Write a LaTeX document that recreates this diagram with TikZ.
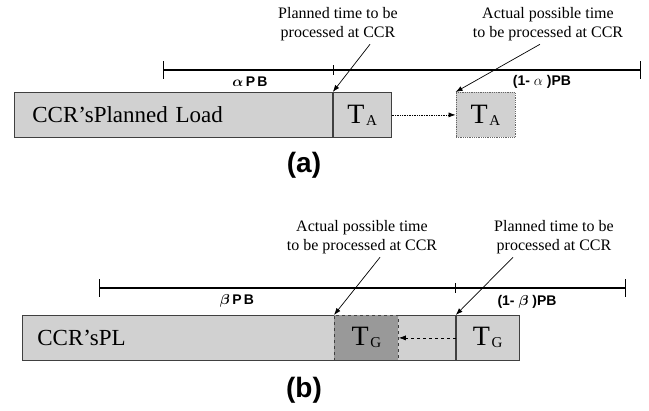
\documentclass[tikz,border=0pt]{standalone}
\usepackage{fontspec}
\usepackage{amsmath}
\usepackage{bm}
\setmainfont{Liberation Serif}
\setsansfont{Liberation Sans}
\usetikzlibrary{arrows.meta,positioning}

\definecolor{loadgray}{gray}{0.82}
\definecolor{shadegray}{gray}{0.6}
\newcommand{\tsub}[1]{{\fontsize{28}{28}\selectfont T}\,\raisebox{-2pt}{\fontsize{15}{15}\selectfont #1}}

\begin{document}
\begin{tikzpicture}[x=1pt,y=-1pt,>={Latex[length=7pt,width=5pt]},
    box/.style={draw=black!75,fill=loadgray,line width=0.8pt,inner sep=0pt,minimum height=45pt},
    loadtext/.style={anchor=north west,align=left,font=\fontsize{23}{23}\selectfont},
    note/.style={align=center,font=\fontsize{16}{19}\selectfont},
    span/.style={font=\sffamily\bfseries\fontsize{14}{14}\selectfont},
    caption/.style={font=\sffamily\bfseries\fontsize{28}{28}\selectfont},
    scaleline/.style={line width=1.6pt},
    tickline/.style={line width=1pt},
    pointer/.style={->,line width=0.7pt}]
    \useasboundingbox (0,0) rectangle (649,411);

    % (a) alpha part of the buffer
    \coordinate (a0) at (163,70);
    \coordinate (a1) at (333,70);
    \coordinate (a2) at (640,70);
    \draw[scaleline] (a0) -- (a2);
    \foreach \p/\h in {a0/9,a2/9,a1/5}
        \draw[tickline] ([yshift=-\h pt]\p) -- ([yshift=\h pt]\p);
    \node[span] (alphaPB) at (250,82) {$\bm{\alpha}$\,P\,B};
    \node[span] (restA) at (542,82) {(1- $\alpha$ )PB};

    \node (loadA) [box,loadtext,text width=282pt,inner xsep=18pt] at (14,92) {CCR’sPlanned Load};
    \node (tA) [box,right=0pt of loadA,minimum width=58pt] {\tsub{A}};
    \node (tAx) [box,densely dotted,draw=black!60,right=64pt of tA,minimum width=59pt] {\tsub{A}};
    \draw[pointer,densely dotted] (tA.east) -- (tAx.west);

    \node[note] (planA) at (338,24) {Planned time to be\\processed at CCR};
    \node[note] (actA) at (548,24) {Actual possible time\\to be processed at CCR};
    \draw[pointer] ([xshift=32pt]planA.south) -- (tA.north west);
    \draw[pointer] ([xshift=-8pt]actA.south) -- (tAx.north west);

    \node[caption] (capA) at (304,165) {(a)};

    % (b) beta part of the buffer
    \coordinate (b0) at (99,288);
    \coordinate (b1) at (455,288);
    \coordinate (b2) at (625,288);
    \draw[scaleline] (b0) -- (b2);
    \foreach \p/\h in {b0/9,b2/9,b1/5}
        \draw[tickline] ([yshift=-\h pt]\p) -- ([yshift=\h pt]\p);
    \node[span] (betaPB) at (237,301) {$\bm{\beta}$\,P\,B};
    \node[span] (restB) at (527,302) {(1- $\bm{\beta}$ )PB};

    \node (loadB) [box,loadtext,text width=403pt,inner xsep=15pt] at (22,315) {CCR’sPL};
    \node (tG) [box,right=0pt of loadB,minimum width=63pt] {\tsub{G}};
    \node (tGx) [box,dashed,fill=shadegray,anchor=north west,minimum width=64pt] at (334,315) {\tsub{G}};
    \draw[pointer,dashed] (tG.west) -- (tGx.east);

    \node[note] (actB) at (362,237) {Actual possible time\\to be processed at CCR};
    \node[note] (planB) at (554,237) {Planned time to be\\processed at CCR};
    \draw[pointer] ([xshift=18pt]actB.south) -- (tGx.north west);
    \draw[pointer] ([xshift=-41pt]planB.south) -- (tG.north west);

    \node[caption] (capB) at (304,390) {(b)};
\end{tikzpicture}
\end{document}
